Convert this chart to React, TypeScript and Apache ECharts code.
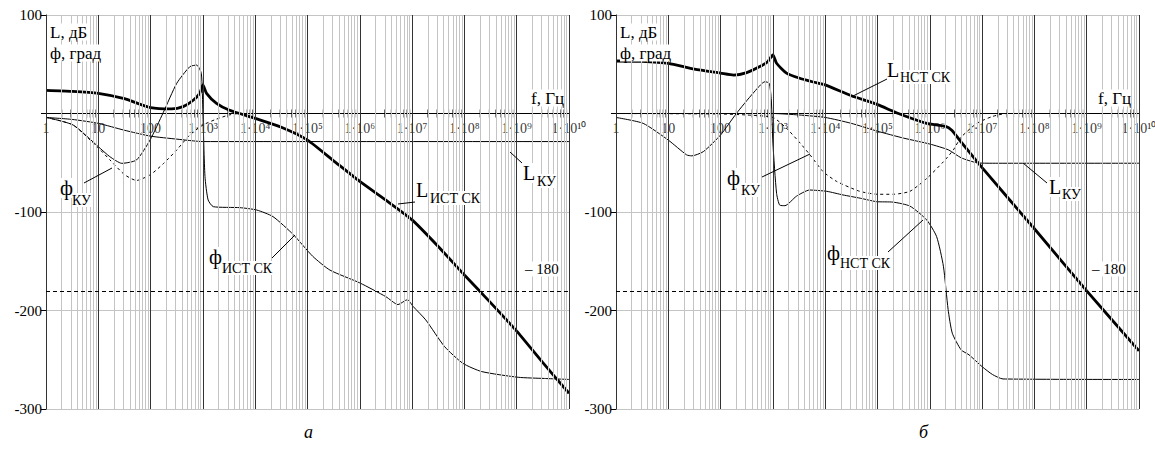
import React, { useEffect, useRef } from "react";
import * as echarts from "echarts";

const FONT = '"Liberation Serif", "Times New Roman", serif';

// ---- axis data ----
const DECADES = [1, 10, 100, 1e3, 1e4, 1e5, 1e6, 1e7, 1e8, 1e9, 1e10];
const DECADE_LABELS = ["1", "10", "100", "1·10³", "1·10⁴", "1·10⁵", "1·10⁶", "1·10⁷", "1·10⁸", "1·10⁹", "1·10¹⁰"];
const MINOR_STEPS = [2, 3, 4, 5, 6, 7, 8, 9];
const Y_MIN = -300;
const Y_MAX = 100;
const Y_STEP = 100;
const PHASE_LIMIT = -180;

// ---- panel а ----
const A_L_IST_F = [1, 3.16, 10, 31.6, 100, 251, 417, 661, 871, 1000, 1175, 1820, 3160, 1e4, 3.16e4, 1e5, 3.16e5, 1e6, 3.16e6, 1e7, 3.16e7, 1e8, 3.16e8, 1e9, 3.16e9, 1e10];
const A_L_IST_V = [23.5, 22.5, 20.5, 15, 6, 4.6, 7, 13.7, 20.5, 29, 20.5, 10.3, 3.6, -5, -14, -27, -48, -69, -88, -108, -135, -164, -192, -221, -253, -284];

const A_PHI_IST_F = [1, 3.3, 10, 16.6, 28.2, 53.7, 97.7, 174, 316, 562, 759, 933, 1000, 1096, 1259, 1585, 5129, 1.07e4, 2.19e4, 5.37e4, 1.26e5, 2.69e5, 1e6, 3.16e6, 5.37e6, 8.13e6, 1.05e7, 1.82e7, 4.17e7, 9.33e7, 2.14e8, 1.07e9, 3.39e9, 1e10];
const A_PHI_IST_V = [-3.9, -11.7, -33.7, -43.8, -50.6, -47.2, -26.9, 0.8, 30.6, 47.5, 49.2, 40.8, 0, -64, -87.8, -94.6, -95.6, -98, -104.7, -123, -145, -159, -172, -186, -194, -189, -196, -209.5, -236.6, -253.6, -262, -267.8, -269, -270];

const A_PHI_KU_F = [1, 3.3, 10, 16.6, 31.6, 53.7, 100, 178, 316, 562, 1000, 1778, 3162, 5012, 1e10];
const A_PHI_KU_V = [-3.9, -11.7, -35, -47, -62, -68, -62, -50.6, -37, -21.8, -11.7, -5.9, -1.5, 0, 0];

const A_L_KU_F = [1, 3.16, 10, 31.6, 100, 316, 1000, 1e10];
const A_L_KU_V = [-4, -6, -10, -17, -23, -26, -28.5, -28.5];

// ---- panel б ----
const B_L_NST_F = [1, 3.16, 10, 31.6, 100, 178, 316, 562, 794, 1000, 1175, 1820, 3162, 5888, 1e4, 3.16e4, 1e5, 2.51e5, 8.71e5, 2e6, 2.63e6, 3.98e6, 1e7, 1e8, 1e9, 1e10];
const B_L_NST_V = [53.3, 53, 51, 45, 41, 39, 41.5, 47.6, 52.6, 59.4, 51, 41, 36, 32, 29, 18, 9, 0, -10, -13, -17, -29, -55, -117, -180, -241];

const B_PHI_NST_F = [1, 3.3, 10, 22.4, 28.2, 46.8, 100, 200, 417, 708, 851, 933, 1000, 1175, 1349, 1698, 2818, 5012, 1.07e4, 2.19e4, 4.68e4, 9.55e4, 2e5, 4.17e5, 8.71e5, 1.35e6, 1.82e6, 2.24e6, 2.69e6, 3.98e6, 5.62e6, 1e7, 1.58e7, 2.51e7, 1e10];
const B_PHI_NST_V = [-4, -10, -27, -42, -43, -38.7, -21.8, 0, 20.5, 32.3, 30.6, 13.7, -30, -81, -93, -93.6, -84, -77.7, -79, -82.7, -86, -89.5, -90, -94, -108, -125, -155, -199, -223, -240, -245, -257, -265, -269.5, -270];

const B_PHI_KU_F = [1, 100, 316, 1000, 1820, 3311, 5129, 9120, 1.66e4, 4.57e4, 1e5, 2e5, 4.17e5, 8.71e5, 1.82e6, 2.82e6, 3.98e6, 7.94e6, 1.58e7, 2.95e7, 1e10];
const B_PHI_KU_V = [0, -0.5, -1.5, -4, -15, -30, -42, -59, -69, -79, -82, -82, -79, -66, -49, -37, -24, -10, -3, 0, 0];

const B_L_KU_F = [1, 1000, 3162, 1e4, 3.16e4, 1e5, 3.16e5, 1e6, 2.29e6, 3.98e6, 7.94e6, 1.58e7, 1e10];
const B_L_KU_V = [0, 0, -1.5, -4, -10, -18, -25, -31, -37, -45, -50, -50.5, -50.5];

const MINOR_FREQS = DECADES.slice(0, -1).flatMap((d) => MINOR_STEPS.map((m) => m * d));

function pairs(f: number[], v: number[]) {
  return f.map((x, i) => [x, v[i]]);
}

function curve(idx: number, f: number[], v: number[], kind: "thick" | "thin" | "dash") {
  const lineStyle =
    kind === "thick"
      ? { width: 2.8, color: "#000" }
      : kind === "dash"
      ? { width: 1, color: "#000", type: [3, 3] }
      : { width: 1, color: "#000" };
  return {
    type: "line",
    xAxisIndex: idx,
    yAxisIndex: idx,
    data: pairs(f, v),
    showSymbol: false,
    symbol: "none",
    smooth: 0.2,
    lineStyle,
    z: 3,
    silent: true,
  };
}

function panelBase(idx: number) {
  const base = { xAxisIndex: idx, yAxisIndex: idx, silent: true };
  const ml = (color: string, width: number, type: any, data: any[]) => ({
    silent: true,
    symbol: ["none", "none"],
    label: { show: false },
    lineStyle: { color, width, type },
    emphasis: { disabled: true },
    data,
  });
  return [
    { ...base, type: "line", data: [], z: 1, markLine: ml("#c4c4c4", 1, "solid", MINOR_FREQS.map((f) => ({ xAxis: f }))) },
    { ...base, type: "line", data: [], z: 1, markLine: ml("#333", 1, "solid", DECADES.map((f) => ({ xAxis: f }))) },
    { ...base, type: "line", data: [], z: 2, markLine: ml("#000", 1, [4, 3], [{ yAxis: PHASE_LIMIT }]) },
    {
      ...base,
      type: "scatter",
      data: MINOR_FREQS.map((f) => [f, 0]),
      symbol: "rect",
      symbolSize: [1, 8],
      itemStyle: { color: "#000" },
      z: 4,
    },
    {
      ...base,
      type: "scatter",
      data: DECADES.map((f) => [f, 0]),
      symbolSize: 1,
      itemStyle: { color: "rgba(0,0,0,0)" },
      label: {
        show: true,
        position: "bottom",
        distance: 7,
        formatter: (p: any) => DECADE_LABELS[p.dataIndex],
        fontFamily: FONT,
        fontSize: 14,
        color: "#000",
      },
      z: 4,
    },
  ];
}

function txt(text: string, x: number, y: number, size: number, extra: any = {}) {
  return {
    type: "text",
    z: 10,
    x,
    y,
    style: {
      text,
      fontFamily: FONT,
      fontSize: size,
      fill: "#000",
      align: "left",
      verticalAlign: "middle",
      ...extra,
    },
  };
}

function seg(x1: number, y1: number, x2: number, y2: number) {
  return { type: "line", z: 10, shape: { x1, y1, x2, y2 }, style: { stroke: "#000", lineWidth: 1 } };
}

const WHITE = { backgroundColor: "#fff" };

export default function App() {
  const ref = useRef<HTMLDivElement>(null);
  useEffect(() => {
    if (!ref.current) return;
    const chart = echarts.init(ref.current, undefined, { renderer: "svg" });
    const grids = [
      { left: 46, top: 15, width: 523, height: 394 },
      { left: 616, top: 15, width: 523, height: 394 },
    ];
    const xAxis = [0, 1].map((i) => ({
      type: "log",
      logBase: 10,
      gridIndex: i,
      min: 1,
      max: 1e10,
      axisLine: { onZero: true, lineStyle: { color: "#000", width: 1 } },
      axisTick: { show: false },
      axisLabel: { show: false },
      splitLine: { show: false },
    }));
    const yAxis = [0, 1].map((i) => ({
      type: "value",
      gridIndex: i,
      min: Y_MIN,
      max: Y_MAX,
      interval: Y_STEP,
      axisLine: { show: true, lineStyle: { color: "#000", width: 1 } },
      axisTick: { show: true, inside: false, length: 5, lineStyle: { color: "#000" } },
      axisLabel: {
        margin: 4,
        color: "#000",
        fontFamily: FONT,
        fontSize: 15,
        formatter: (v: number) => (v === 0 ? "" : String(v)),
      },
      splitLine: { show: true, lineStyle: { color: "#c4c4c4", width: 1 } },
    }));
    const series = [
      ...panelBase(0),
      curve(0, A_PHI_KU_F, A_PHI_KU_V, "dash"),
      curve(0, A_L_KU_F, A_L_KU_V, "thin"),
      curve(0, A_PHI_IST_F, A_PHI_IST_V, "thin"),
      curve(0, A_L_IST_F, A_L_IST_V, "thick"),
      ...panelBase(1),
      curve(1, B_PHI_KU_F, B_PHI_KU_V, "dash"),
      curve(1, B_L_KU_F, B_L_KU_V, "thin"),
      curve(1, B_PHI_NST_F, B_PHI_NST_V, "thin"),
      curve(1, B_L_NST_F, B_L_NST_V, "thick"),
    ];
    const graphic = [
      // panel а
      txt("L, дБ", 50, 32, 17, WHITE),
      txt("ф, град", 50, 53, 17, WHITE),
      txt("f, Гц", 531, 98, 17, WHITE),
      txt("– 180", 525, 269, 15, WHITE),
      seg(84, 183, 112, 168),
      txt("ф", 60, 188, 20, WHITE),
      txt("КУ", 72, 200, 14, WHITE),
      seg(272, 258, 295, 235),
      txt("ф", 209, 257, 20, WHITE),
      txt("ИСТ СК", 222, 268, 14, WHITE),
      seg(398, 204, 415, 202),
      txt("L", 416, 190, 20, WHITE),
      txt("ИСТ СК", 430, 198, 14, WHITE),
      seg(510, 152, 522, 163),
      txt("L", 523, 173, 20, WHITE),
      txt("КУ", 537, 181, 14, WHITE),
      txt("а", 304, 432, 18, { fontStyle: "italic" }),
      // panel б
      txt("L, дБ", 620, 32, 17, WHITE),
      txt("ф, град", 620, 53, 17, WHITE),
      txt("f, Гц", 1098, 98, 17, WHITE),
      txt("– 180", 1092, 269, 15, WHITE),
      seg(853, 96, 887, 79),
      txt("L", 887, 70, 20, WHITE),
      txt("НСТ СК", 900, 77, 14, WHITE),
      seg(762, 177, 810, 154),
      txt("ф", 727, 178, 20, WHITE),
      txt("КУ", 741, 190, 14, WHITE),
      seg(888, 252, 923, 220),
      txt("ф", 827, 253, 20, WHITE),
      txt("НСТ СК", 840, 263, 14, WHITE),
      seg(1023, 163, 1047, 183),
      txt("L", 1049, 187, 20, WHITE),
      txt("КУ", 1062, 194, 14, WHITE),
      txt("б", 919, 432, 18, { fontStyle: "italic" }),
    ];
    chart.setOption({
      animation: false,
      backgroundColor: "#fff",
      grid: grids,
      xAxis,
      yAxis,
      series,
      graphic,
    });
    return () => chart.dispose();
  }, []);
  return <div ref={ref} style={{ position: "fixed", left: 0, top: 0, width: 1155, height: 457 }} />;
}
